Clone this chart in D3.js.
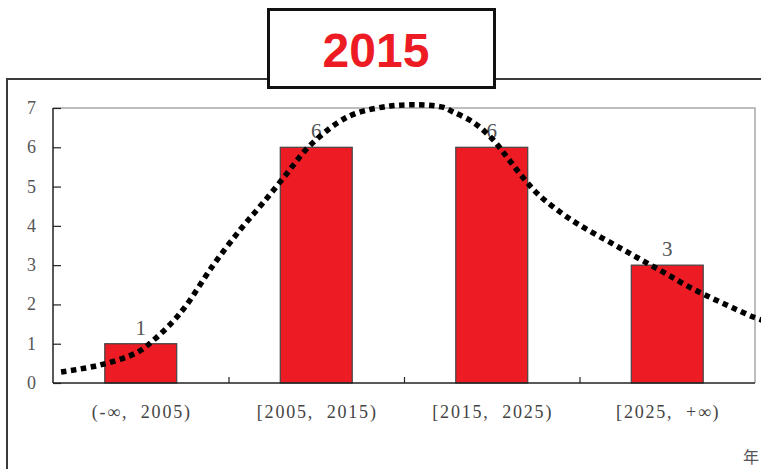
<!DOCTYPE html>
<html><head><meta charset="utf-8">
<script src="https://cdn.jsdelivr.net/npm/d3@7"></script>
<style>body{margin:0;background:#fff}svg{display:block}</style>
</head><body>
<svg id="c" width="761" height="469"></svg>
<script>
const title = "2015";
const categories = ["(-∞,  2005)", "[2005,  2015)", "[2015,  2025)", "[2025,  +∞)"];
const counts = [1, 6, 6, 3];
const yTicks = [0, 1, 2, 3, 4, 5, 6, 7];
const xUnitLabel = "年";
// trend curve: position in category units (0..4) and value
const curveX = [0.046, 0.27, 0.48, 0.58, 0.68, 0.76, 0.91, 1.07, 1.19, 1.32, 1.45, 1.62, 1.73, 1.92, 2.09, 2.22, 2.28, 2.40, 2.51, 2.59, 2.68, 2.77, 2.89, 3.00, 3.13, 3.25, 3.37, 3.49, 3.61, 3.74, 3.87, 3.99, 4.04];
const curveV = [0.28, 0.46, 0.78, 1.12, 1.55, 1.98, 2.98, 3.92, 4.55, 5.26, 5.98, 6.62, 6.87, 7.05, 7.08, 7.02, 6.90, 6.62, 6.18, 5.73, 5.22, 4.78, 4.35, 4.02, 3.69, 3.39, 3.09, 2.79, 2.48, 2.19, 1.92, 1.68, 1.60];

const svg = d3.select("#c");
const L = 53, R = 755, T = 108, B = 383;
const x = d3.scaleBand().domain(categories).range([L, R]).paddingInner(0.59).paddingOuter(0.295);
const xc = d3.scaleLinear().domain([0, 4]).range([L, R]);
const y = d3.scaleLinear().domain([0, 7]).range([B, T]);
const serif = "'Liberation Serif','DejaVu Serif',serif";

// outer frame
svg.append("path").attr("d", `M7,475 L7,79 L770,79`).attr("fill", "none").attr("stroke", "#3a3a3a").attr("stroke-width", 2);

// plot border top/right
svg.append("path").attr("d", `M${L},${T} L${R},${T} L${R},${B}`).attr("fill", "none").attr("stroke", "#a8a8a8").attr("stroke-width", 1.5);

// bars
svg.append("g").selectAll("rect").data(counts).join("rect")
  .attr("x", (d, i) => x(categories[i]))
  .attr("y", d => y(d))
  .attr("width", x.bandwidth())
  .attr("height", d => B - y(d))
  .attr("fill", "#ed1c24").attr("stroke", "#444").attr("stroke-width", 1.2);

// y axis
const ya = svg.append("g").attr("transform", `translate(${L},0)`)
  .call(d3.axisRight(y).tickValues(yTicks).tickSize(8).tickFormat(""));
ya.select(".domain").remove();
ya.selectAll("line").attr("stroke", "#222").attr("stroke-width", 1.2);
svg.append("line").attr("x1", L).attr("x2", L).attr("y1", T).attr("y2", B).attr("stroke", "#222").attr("stroke-width", 1.5);
svg.append("g").selectAll("text").data(yTicks).join("text")
  .attr("x", 36).attr("y", d => y(d) + 6)
  .attr("text-anchor", "end").attr("font-family", serif).attr("font-size", 18).attr("fill", "#555")
  .text(d => d);

// x axis
const xa = svg.append("g").attr("transform", `translate(0,${B})`)
  .call(d3.axisTop(xc).tickValues([1, 2, 3]).tickSize(6).tickFormat(""));
xa.select(".domain").remove();
xa.selectAll("line").attr("stroke", "#222").attr("stroke-width", 1.2);
svg.append("line").attr("x1", L).attr("x2", R).attr("y1", B).attr("y2", B).attr("stroke", "#222").attr("stroke-width", 1.5);
svg.append("g").selectAll("text").data(categories).join("text")
  .attr("x", d => x(d) + x.bandwidth() / 2 + 1).attr("y", 418)
  .attr("text-anchor", "middle").attr("font-family", serif).attr("font-size", 18)
  .attr("letter-spacing", 1.8).attr("fill", "#444")
  .style("white-space", "pre")
  .text(d => d);

// value labels
svg.append("g").selectAll("text").data(counts).join("text")
  .attr("x", (d, i) => x(categories[i]) + x.bandwidth() / 2)
  .attr("y", d => y(d) - 9)
  .attr("text-anchor", "middle").attr("font-family", serif).attr("font-size", 21).attr("fill", "#555")
  .text(d => d);

// trend curve
const pts = curveX.map((c, i) => [xc(c), y(curveV[i])]);
svg.append("path").datum(pts)
  .attr("d", d3.line().curve(d3.curveCatmullRom.alpha(0.5)))
  .attr("fill", "none").attr("stroke", "#000").attr("stroke-width", 5.5)
  .attr("stroke-dasharray", "5.5,4.5");

// unit label
svg.append("text").attr("x", 743).attr("y", 463)
  .attr("font-family", "'Noto Sans CJK SC',sans-serif").attr("font-size", 16).attr("fill", "#555")
  .text(xUnitLabel);

// title box
svg.append("rect").attr("x", 268.5).attr("y", 9.5).attr("width", 226).attr("height", 78)
  .attr("fill", "#fff").attr("stroke", "#111").attr("stroke-width", 3);
svg.append("text").attr("x", 376).attr("y", 67).attr("text-anchor", "middle")
  .attr("font-family", "'Liberation Sans',Arial,sans-serif").attr("font-weight", "bold").attr("font-size", 48)
  .attr("fill", "#ed1c24").text(title);
</script>
</body></html>
